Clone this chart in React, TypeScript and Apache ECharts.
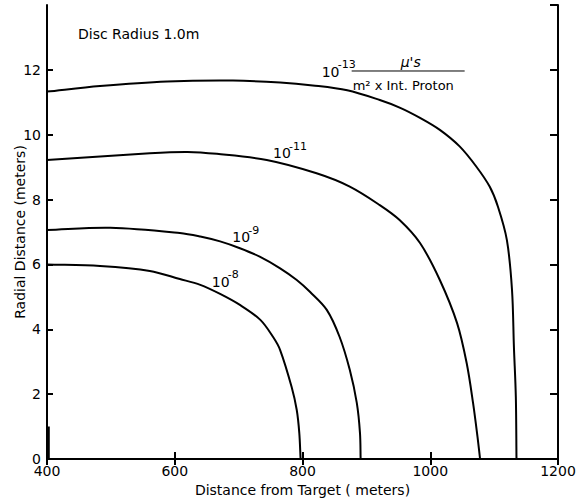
import React, { useEffect, useRef } from "react";
import * as echarts from "echarts";

// Axis ranges
const X_MIN = 400;
const X_MAX = 1200;
const X_STEP = 200;
const Y_MIN = 0;
const Y_MAX = 14;
const Y_STEP = 2;

// Contour curves: [distance from target (m), radial distance (m)]
const curve13: number[][] = [
  [400, 11.33], [483, 11.5], [588, 11.64], [691, 11.67], [765, 11.61], [816, 11.52],
  [870, 11.37], [921, 11.07], [953, 10.83], [984, 10.52], [1015, 10.15], [1046, 9.64],
  [1072, 9.02], [1093, 8.4], [1106, 7.78], [1120, 6.75], [1128, 5.21], [1131, 3.45],
  [1134, 1.91], [1135, 0],
];
const curve11: number[][] = [
  [400, 9.22], [561, 9.43], [620, 9.47], [666, 9.41], [744, 9.22],
  [822, 8.81], [874, 8.4], [921, 7.83], [952, 7.37], [984, 6.66], [1015, 5.52],
  [1042, 4.19], [1057, 2.96], [1067, 1.73], [1074, 0.68], [1078, 0],
];
const curve9: number[][] = [
  [400, 7.06], [499, 7.13], [608, 6.97], [640, 6.86], [671, 6.71], [702, 6.5],
  [733, 6.24], [765, 5.88], [791, 5.52], [812, 5.15], [838, 4.6], [858, 3.77],
  [874, 2.75], [885, 1.73], [890, 0.8], [891, 0],
];
const curve8: number[][] = [
  [400, 6.0], [483, 5.95], [561, 5.8], [608, 5.55], [640, 5.37], [671, 5.09],
  [702, 4.75], [734, 4.29], [754, 3.76], [765, 3.36], [783, 2.22], [791, 1.51],
  [795, 0.8], [797, 0],
];
// Disc of radius 1.0 m at the start
const disc: number[][] = [[402, 0], [402, 1]];

// Curve labels (anchor = left/baseline of "10", in data coordinates)
const curveLabels = [
  { x: 754, y: 9.28, exp: "-11" },
  { x: 690, y: 6.69, exp: "-9" },
  { x: 658, y: 5.31, exp: "-8" },
  { x: 830, y: 11.78, exp: "-13" },
];
const unitsNumerator = "μ's";
const unitsDenominator = "m² x Int. Proton";
const discNote = { x: 448.5, y: 12.95, text: "Disc Radius 1.0m" };

const X_TITLE = "Distance from Target ( meters)";
const Y_TITLE = "Radial Distance (meters)";

const FONT = "'DejaVu Sans', 'Liberation Sans', sans-serif";

// Smooth path through pixel points (length-weighted Catmull-Rom as cubic Béziers)
function smoothPath(pts: number[][]): string {
  const n = pts.length;
  let d = `M${pts[0][0]},${pts[0][1]}`;
  const dist = (a: number[], b: number[]) => Math.hypot(a[0] - b[0], a[1] - b[1]) || 1e-6;
  const s = 1 / 3;
  for (let i = 0; i < n - 1; i++) {
    const p0 = pts[Math.max(i - 1, 0)];
    const p1 = pts[i];
    const p2 = pts[i + 1];
    const p3 = pts[Math.min(i + 2, n - 1)];
    const d01 = dist(p0, p1), d12 = dist(p1, p2), d23 = dist(p2, p3);
    const k1 = (s * d12) / (d01 + d12);
    const k2 = (s * d12) / (d12 + d23);
    const c1 = [p1[0] + (p2[0] - p0[0]) * k1, p1[1] + (p2[1] - p0[1]) * k1];
    const c2 = [p2[0] - (p3[0] - p1[0]) * k2, p2[1] - (p3[1] - p1[1]) * k2];
    d += ` C${c1[0]},${c1[1]} ${c2[0]},${c2[1]} ${p2[0]},${p2[1]}`;
  }
  return d;
}

export default function App() {
  const ref = useRef<HTMLDivElement>(null);
  useEffect(() => {
    document.body.style.margin = "0";
    const chart = echarts.init(ref.current!, undefined, { renderer: "svg" });
    const axisCommon = {
      type: "value" as const,
      splitLine: { show: false },
      axisLine: { show: true, lineStyle: { color: "#000", width: 2 } },
    };
    const mkCurve = (data: number[][]) => ({
      type: "custom",
      coordinateSystem: "cartesian2d",
      data,
      encode: { x: 0, y: 1 },
      silent: true,
      renderItem: (params: any, api: any) => {
        if (params.dataIndex !== 0) return null;
        const pts = data.map((p) => api.coord(p));
        return {
          type: "path",
          shape: { pathData: smoothPath(pts) },
          style: { fill: "none", stroke: "#000", lineWidth: 2 },
        };
      },
    });
    chart.setOption({
      animation: false,
      backgroundColor: "#fff",
      grid: { left: 47, right: 25, top: 5, bottom: 41, containLabel: false, outerBoundsMode: "none" },
      xAxis: [
        {
          ...axisCommon,
          position: "bottom",
          min: X_MIN,
          max: X_MAX,
          interval: X_STEP,
          name: X_TITLE,
          nameLocation: "middle",
          nameGap: 23,
          nameTextStyle: { fontFamily: FONT, fontSize: 14, color: "#000" },
          axisTick: { show: true, inside: true, length: 7, lineStyle: { color: "#000", width: 2 } },
          axisLabel: { fontFamily: FONT, fontSize: 14, color: "#000", margin: 5, formatter: (v: number) => String(v) },
        },
        {
          ...axisCommon,
          position: "top",
          min: X_MIN,
          max: X_MAX,
          interval: X_STEP,
          axisTick: { show: true, inside: true, length: 6, lineStyle: { color: "#000", width: 2 } },
          axisLabel: { show: false },
        },
      ],
      yAxis: [
        {
          ...axisCommon,
          position: "left",
          min: Y_MIN,
          max: Y_MAX,
          interval: Y_STEP,
          name: Y_TITLE,
          nameLocation: "middle",
          nameGap: 20,
          nameMoveOverlap: false,
          nameTextStyle: { fontFamily: FONT, fontSize: 14, color: "#000" },
          axisTick: { show: true, inside: true, length: 6, lineStyle: { color: "#000", width: 2 } },
          axisLabel: {
            fontFamily: FONT,
            fontSize: 14,
            color: "#000",
            margin: 6,
            showMaxLabel: false,
            formatter: (v: number) => (v >= Y_MAX ? "" : String(v)),
          },
        },
        {
          ...axisCommon,
          position: "right",
          min: Y_MIN,
          max: Y_MAX,
          interval: Y_STEP,
          axisTick: { show: true, inside: true, length: 8, lineStyle: { color: "#000", width: 2 } },
          axisLabel: { show: false },
        },
      ],
      series: [
        mkCurve(curve13),
        mkCurve(curve11),
        mkCurve(curve9),
        mkCurve(curve8),
        { type: "line", data: disc, showSymbol: false, symbol: "none", lineStyle: { color: "#000", width: 3 }, silent: true },
      ],
    });

    const toPx = (x: number, y: number) =>
      chart.convertToPixel({ gridIndex: 0 }, [x, y]) as number[];
    const graphics: any[] = [];
    curveLabels.forEach((l) => {
      const [px, py] = toPx(l.x, l.y);
      graphics.push({
        type: "text",
        x: px,
        y: py - 5,
        style: { text: "10", font: `14px ${FONT}`, fill: "#000", textAlign: "left", textVerticalAlign: "middle" },
        silent: true,
      });
      graphics.push({
        type: "text",
        x: px + 16,
        y: py - 12,
        style: { text: l.exp, font: `11px ${FONT}`, fill: "#000", textAlign: "left", textVerticalAlign: "middle" },
        silent: true,
      });
      if (l.exp === "-13") {
        graphics.push({
          type: "line",
          shape: { x1: px + 30, y1: py - 6, x2: px + 143, y2: py - 6 },
          style: { stroke: "#000", lineWidth: 1 },
          silent: true,
        });
        graphics.push({
          type: "text",
          x: px + 89,
          y: py - 15,
          style: { text: unitsNumerator, font: `italic 14px ${FONT}`, fill: "#000", textAlign: "center", textVerticalAlign: "middle" },
          silent: true,
        });
        graphics.push({
          type: "text",
          x: px + 31,
          y: py + 9,
          style: { text: unitsDenominator, font: `13px ${FONT}`, fill: "#000", textAlign: "left", textVerticalAlign: "middle" },
          silent: true,
        });
      }
    });
    {
      const [px, py] = toPx(discNote.x, discNote.y);
      graphics.push({
        type: "text",
        x: px,
        y: py - 5,
        style: { text: discNote.text, font: `14px ${FONT}`, fill: "#000", textAlign: "left", textVerticalAlign: "middle" },
        silent: true,
      });
    }
    chart.setOption({ graphic: graphics });

    return () => chart.dispose();
  }, []);
  return <div ref={ref} style={{ width: 583, height: 500 }} />;
}
